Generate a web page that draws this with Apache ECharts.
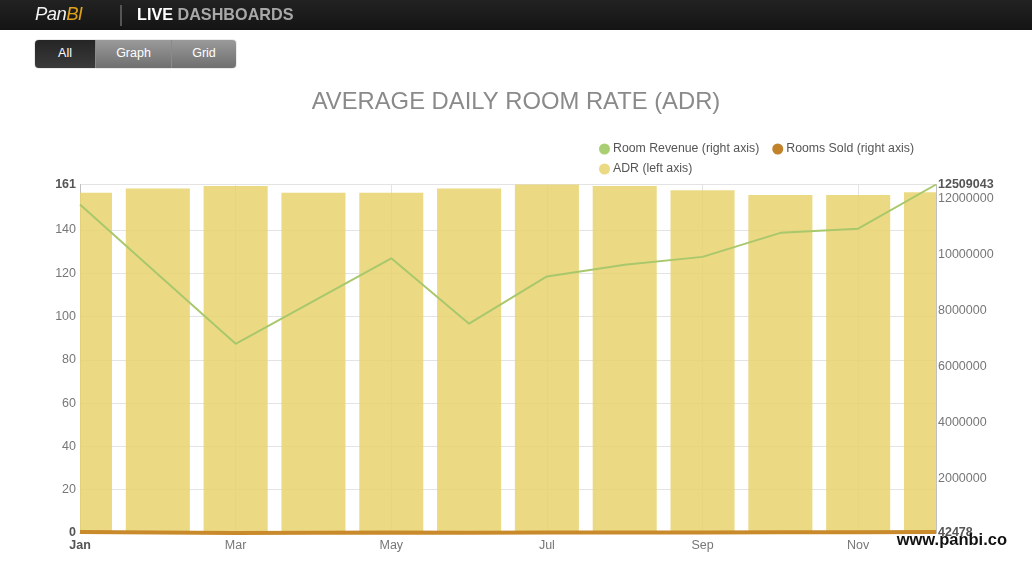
<!DOCTYPE html>
<html>
<head>
<meta charset="utf-8">
<script src="https://cdn.jsdelivr.net/npm/echarts@6/dist/echarts.min.js"></script>
<style>
  html, body { margin: 0; padding: 0; background: #fff; width: 1032px; height: 571px; overflow: hidden; font-family: "Liberation Sans", Arial, sans-serif; }
  #header { position: absolute; left: 0; top: 0; width: 1032px; height: 30px; background: linear-gradient(#222, #141414); }
  #logo { position: absolute; left: 35px; top: 3px; font-size: 18.5px; font-style: italic; color: #f2f2f2; letter-spacing: -0.6px; }
  #logo span { color: #e0a21c; }
  #sep { position: absolute; left: 120px; top: 5px; width: 2px; height: 21px; background: #555; }
  #live { position: absolute; left: 137px; top: 5px; font-size: 16.2px; font-weight: bold; color: #fff; }
  #live span { color: #a8a8a8; }
  #btns { position: absolute; left: 35px; top: 40px; height: 28px; width: 201px; border-radius: 4px; overflow: hidden; display: flex; box-shadow: 0 0 1px #333; }
  .b { height: 28px; line-height: 27px; text-align: center; color: #fff; font-size: 12.5px; background: linear-gradient(#9a9a9a, #6f6f6f); border-left: 1px solid #8a8a8a; box-sizing: border-box; }
  .b.on { background: linear-gradient(#252525, #3a3a3a); border-left: none; }
  #chart { position: absolute; left: 0; top: 0; width: 1032px; height: 571px; }
</style>
</head>
<body>
<div id="chart"></div>
<div id="header">
  <div id="logo">Pan<span>BI</span></div>
  <div id="sep"></div>
  <div id="live">LIVE <span>DASHBOARDS</span></div>
</div>
<div id="btns">
  <div class="b on" style="width:60px">All</div>
  <div class="b" style="width:76px">Graph</div>
  <div class="b" style="width:65px">Grid</div>
</div>
<script>
const months = ['Jan','Feb','Mar','Apr','May','Jun','Jul','Aug','Sep','Oct','Nov','Dec'];
const adr = [157.2, 159.2, 160.3, 157.2, 157.2, 159.2, 161, 160.3, 158.3, 156.1, 156.1, 157.4];
const roomRevenue = [11790000, 9300000, 6810000, 8340000, 9870000, 7530000, 9220000, 9640000, 9920000, 10780000, 10930000, 12509043];
const roomsSold = [75000, 58420, 42478, 53050, 62790, 47300, 57270, 60140, 62670, 69060, 70020, 79470];
const leftTicks = [0, 20, 40, 60, 80, 100, 120, 140, 161];
const rightTicks = [42478, 2000000, 4000000, 6000000, 8000000, 10000000, 12000000, 12509043];

const FONT = '"Liberation Sans", Arial, sans-serif';
const chart = echarts.init(document.getElementById('chart'), null, { renderer: 'canvas' });

function renderBar(params, api) {
  const top = api.coord([api.value(0), api.value(1)]);
  const base = api.coord([api.value(0), 0]);
  const w = api.size([1, 0])[0] * 0.823;
  const cs = params.coordSys;
  const rect = echarts.graphic.clipRectByRect(
    { x: top[0] - w / 2, y: top[1], width: w, height: base[1] - top[1] },
    { x: cs.x, y: cs.y, width: cs.width, height: cs.height }
  );
  return rect && { type: 'rect', shape: rect, style: api.style() };
}

chart.setOption({
  animation: false,
  textStyle: { fontFamily: FONT },
  title: {
    text: 'AVERAGE DAILY ROOM RATE (ADR)',
    left: 'center',
    top: 85,
    textStyle: { fontFamily: FONT, fontSize: 23.8, fontWeight: 'normal', color: '#8a8a8a' }
  },
  legend: [
    {
      data: ['Room Revenue (right axis)', 'Rooms Sold (right axis)'],
      left: 594, top: 138, orient: 'horizontal',
      icon: 'circle', itemWidth: 11, itemHeight: 11, itemGap: 13,
      textStyle: { fontFamily: FONT, fontSize: 12.3, color: '#555', padding: [0, 0, 0, -2] }
    },
    {
      data: ['ADR (left axis)'],
      left: 594, top: 158,
      icon: 'circle', itemWidth: 11, itemHeight: 11,
      textStyle: { fontFamily: FONT, fontSize: 12.3, color: '#555', padding: [0, 0, 0, -2] }
    }
  ],
  grid: { left: 80, right: 96, top: 184.5, bottom: 38, containLabel: false },
  xAxis: {
    type: 'category',
    data: months,
    boundaryGap: false,
    axisLine: { show: true, lineStyle: { color: '#c0c0c0' } },
    axisTick: { show: false },
    axisLabel: {
      interval: 1, margin: 6, color: '#777', fontSize: 12.5, fontFamily: FONT,
      formatter: (v, i) => i === 0 ? '{b|' + v + '}' : v,
      rich: { b: { fontWeight: 'bold', color: '#555', fontSize: 12.5, fontFamily: FONT } }
    },
    splitLine: { show: true, interval: 1, lineStyle: { color: '#e3e3e3' } }
  },
  yAxis: [
    {
      type: 'value', min: 0, max: 161,
      axisLine: { show: true, lineStyle: { color: '#c0c0c0' } },
      axisTick: { show: false, customValues: leftTicks },
      axisLabel: {
        customValues: leftTicks, margin: 4, color: '#777', fontSize: 12.5, fontFamily: FONT,
        formatter: v => (v === 0 || v === 161) ? '{b|' + v + '}' : String(v),
        rich: { b: { fontWeight: 'bold', color: '#555', fontSize: 12.5, fontFamily: FONT } }
      },
      splitLine: { show: true, lineStyle: { color: '#e3e3e3' } }
    },
    {
      type: 'value', min: 42478, max: 12509043, position: 'right',
      axisLine: { show: true, lineStyle: { color: '#c0c0c0' } },
      axisTick: { show: false, customValues: rightTicks },
      axisLabel: {
        customValues: rightTicks, margin: 2, color: '#777', fontSize: 12.5, fontFamily: FONT,
        formatter: v => (v === 42478 || v === 12509043) ? '{b|' + v + '}' : String(v),
        rich: { b: { fontWeight: 'bold', color: '#555', fontSize: 12.5, fontFamily: FONT } }
      },
      splitLine: { show: false }
    }
  ],
  series: [
    {
      name: 'ADR (left axis)', type: 'custom', yAxisIndex: 0,
      data: adr.map((v, i) => [i, v]),
      encode: { x: 0, y: 1 },
      renderItem: renderBar,
      itemStyle: { color: 'rgba(231,210,111,0.85)' },
      z: 1
    },
    {
      name: 'Room Revenue (right axis)', type: 'line', yAxisIndex: 1, data: roomRevenue,
      symbol: 'none', lineStyle: { color: '#a9c86c', width: 2 }, itemStyle: { color: '#a9cf72' },
      z: 3
    },
    {
      name: 'Rooms Sold (right axis)', type: 'line', yAxisIndex: 1, data: roomsSold,
      symbol: 'none', lineStyle: { color: '#c98a2c', width: 4 }, itemStyle: { color: '#c2822a' },
      clip: false, z: 4
    }
  ],
  graphic: [
    {
      type: 'text', right: 25, top: 532, z: 100,
      style: { text: 'www.panbi.co', font: 'bold 16.5px ' + FONT, fill: '#111' }
    }
  ]
});
</script>
</body>
</html>
